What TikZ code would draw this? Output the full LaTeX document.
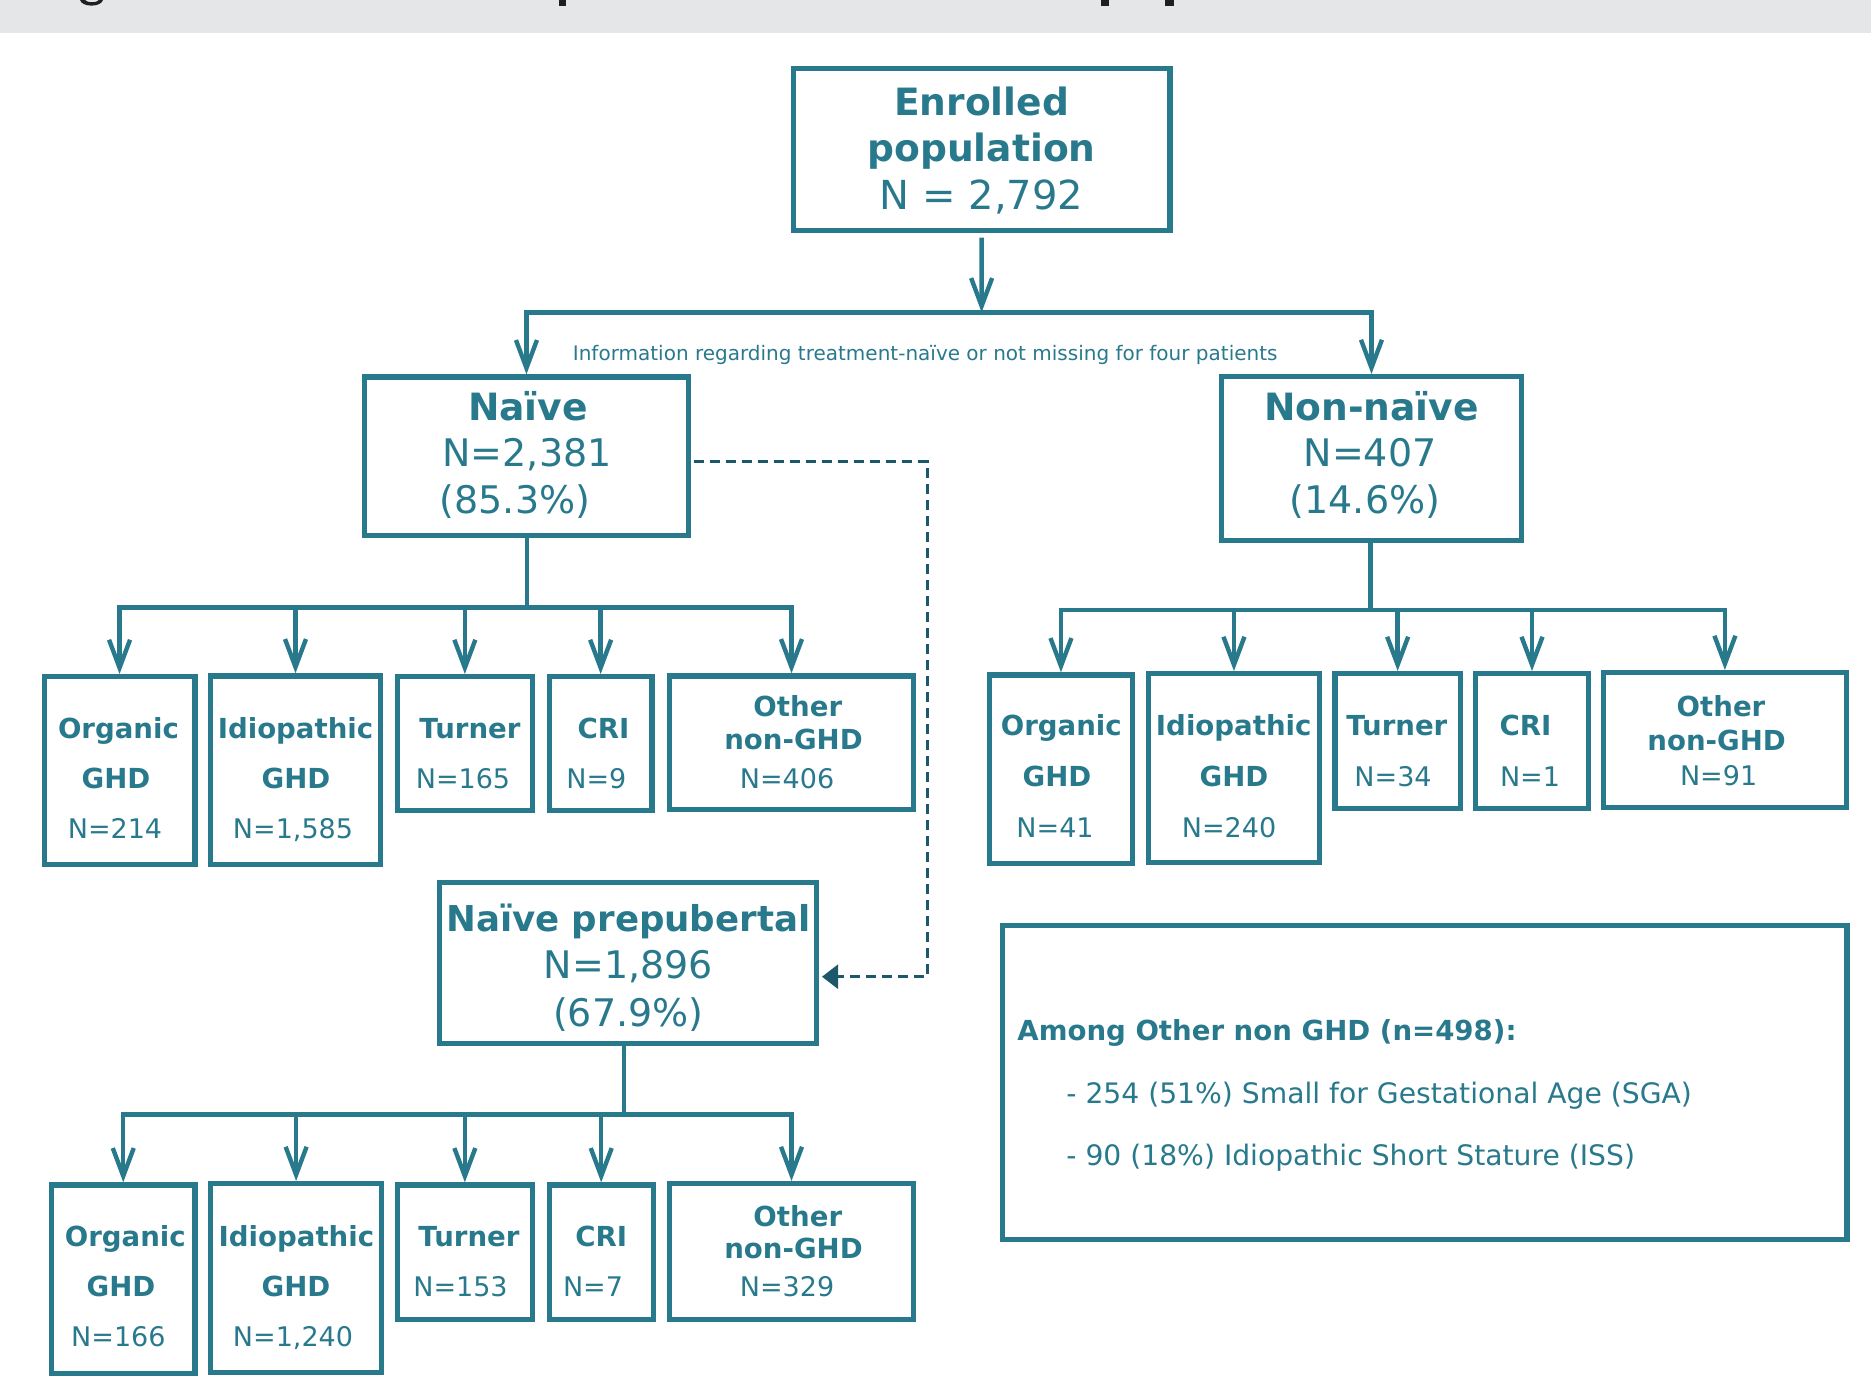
\documentclass[tikz,border=0pt]{standalone}
\usepackage{fontspec}
\setmainfont{DejaVu Sans}
\usetikzlibrary{arrows.meta}
\definecolor{tl}{RGB}{41,121,141}
\definecolor{tld}{RGB}{27,88,106}
\definecolor{bannergrey}{RGB}{229,230,232}
\tikzset{
  box/.style={draw=tl, line width=2.6pt, inner sep=0pt, rectangle},
  txt/.style={anchor=base, inner sep=0pt, text=tl},
  conn/.style={draw=tl, line width=2.2pt, line join=miter},
  vb/.tip={Straight Barb[length=14pt,width=10.5pt]},
  dconn/.style={draw=tld, line width=1.3pt, dash pattern=on 5pt off 3pt},
  hbig/.style={font=\fontsize{18.8}{22}\selectfont\bfseries},
  rbig/.style={font=\fontsize{19}{22}\selectfont},
  hsm/.style={font=\fontsize{13.8}{16}\selectfont\bfseries},
  rsm/.style={font=\fontsize{13.5}{16}\selectfont},
  hnote/.style={font=\fontsize{13.8}{16}\selectfont\bfseries},
  rnote/.style={font=\fontsize{14.1}{16}\selectfont},
}
\newcommand\bx[5]{\node[box, minimum width={(#4-#2-5.2)*0.5pt}, minimum height={(#5-#3-5.2)*0.5pt}] (#1) at ({(#2+#4)/2},{(#3+#5)/2}) {};}
\newcommand\tx[5]{\node[txt,#4] (#1) at (#2,#3) {#5};}
\begin{document}
\begin{tikzpicture}[x=0.5pt,y=-0.5pt]
\useasboundingbox (0,0) rectangle (1871,1398);
\fill[bannergrey] (0,0) rectangle (1871,33);
\fill[black!88] (80,0) -- (85,0) .. controls (87,3) and (97,3) .. (99,0) -- (103,0) .. controls (101,7.5) and (82,7.5) .. (80,0) -- cycle;
\fill[black!88] (558.5,0) rectangle (566,6);
\fill[black!88] (1100.7,0) rectangle (1109.3,6);
\fill[black!88] (1165,0) rectangle (1174,6);

% boxes
\bx{enr}{790.7}{66}{1172.6}{232.7}
\bx{naive}{361.9}{374.3}{691}{538.3}
\bx{nonnaive}{1218.6}{374}{1524.3}{542.7}
\bx{pre}{437}{880}{819.4}{1046}
\bx{n1}{41.5}{674}{197.6}{866.7}
\bx{n2}{208}{673.3}{383}{866.7}
\bx{n3}{394.5}{674}{535.2}{812.7}
\bx{n4}{546.7}{674}{654.6}{812.7}
\bx{n5}{667.2}{673.3}{915.8}{811.7}
\bx{m1}{986.8}{672.3}{1135.1}{866}
\bx{m2}{1145.9}{671}{1322}{864.7}
\bx{m3}{1332.3}{671}{1463}{810.7}
\bx{m4}{1473.2}{671}{1590.8}{810.7}
\bx{m5}{1600.5}{670}{1849.3}{810}
\bx{p1}{48.9}{1182.3}{197.6}{1375.7}
\bx{p2}{208}{1181}{384.2}{1375}
\bx{p3}{394.5}{1182.3}{535.2}{1321.7}
\bx{p4}{546.7}{1182.3}{655.7}{1321.7}
\bx{p5}{667.2}{1181}{915.8}{1321.7}
\bx{note}{1000}{922.7}{1849.6}{1241.7}

% texts: enrolled
\tx{enr1}{981.6}{115}{hbig}{Enrolled}
\tx{enr2}{981.6}{161.7}{hbig}{population}
\tx{enr3}{981.6}{209.3}{font=\fontsize{20}{22}\selectfont}{N = 2,792}
\node[txt, anchor=base west, font=\fontsize{10}{12}\selectfont] (info) at (572.5,360) {Information regarding treatment-naïve or not missing for four patients};
% naive
\tx{nv1}{528}{420}{hbig}{Naïve}
\tx{nv2}{527}{466.7}{rbig}{N=2,381}
\tx{nv3}{515}{513.5}{rbig}{(85.3\%)}
% non-naive
\tx{nn1}{1371.5}{420}{hbig}{Non-naïve}
\tx{nn2}{1370}{466.5}{rbig}{N=407}
\tx{nn3}{1365}{513.5}{rbig}{(14.6\%)}
% prepubertal
\tx{pr1}{628.3}{931.7}{font=\fontsize{17.8}{22}\selectfont\bfseries}{Naïve prepubertal}
\tx{pr2}{628.3}{978.3}{rbig}{N=1,896}
\tx{pr3}{628.3}{1026.7}{rbig}{(67.9\%)}

% naive children
\tx{n1a}{118.5}{738.3}{hsm}{Organic}
\tx{n1b}{116}{788.3}{hsm}{GHD}
\tx{n1c}{115}{838.3}{rsm}{N=214}
\tx{n2a}{295.5}{738.3}{hsm}{Idiopathic}
\tx{n2b}{296}{788.3}{hsm}{GHD}
\tx{n2c}{293}{838.3}{rsm}{N=1,585}
\tx{n3a}{470}{738.3}{hsm}{Turner}
\tx{n3b}{463}{788.3}{rsm}{N=165}
\tx{n4a}{603.5}{738.3}{hsm}{CRI}
\tx{n4b}{596.3}{788.3}{rsm}{N=9}
\tx{n5a}{797.8}{716.7}{hsm}{Other}
\tx{n5b}{793.5}{749.3}{hsm}{non-GHD}
\tx{n5c}{787}{788.3}{rsm}{N=406}

% non-naive children
\tx{m1a}{1061.3}{735}{hsm}{Organic}
\tx{m1b}{1057}{786.7}{hsm}{GHD}
\tx{m1c}{1055}{837.3}{rsm}{N=41}
\tx{m2a}{1233.7}{735}{hsm}{Idiopathic}
\tx{m2b}{1234}{786.7}{hsm}{GHD}
\tx{m2c}{1229}{837.3}{rsm}{N=240}
\tx{m3a}{1396.8}{735}{hsm}{Turner}
\tx{m3b}{1393}{786}{rsm}{N=34}
\tx{m4a}{1525.5}{735}{hsm}{CRI}
\tx{m4b}{1530}{786}{rsm}{N=1}
\tx{m5a}{1721}{716.7}{hsm}{Other}
\tx{m5b}{1716.6}{750}{hsm}{non-GHD}
\tx{m5c}{1718.6}{785}{rsm}{N=91}

% prepubertal children
\tx{p1a}{125.3}{1246.7}{hsm}{Organic}
\tx{p1b}{121}{1296.7}{hsm}{GHD}
\tx{p1c}{118.4}{1346.7}{rsm}{N=166}
\tx{p2a}{296.4}{1246.7}{hsm}{Idiopathic}
\tx{p2b}{296}{1296.7}{hsm}{GHD}
\tx{p2c}{293}{1346.7}{rsm}{N=1,240}
\tx{p3a}{469}{1246.7}{hsm}{Turner}
\tx{p3b}{460.5}{1296.7}{rsm}{N=153}
\tx{p4a}{601.2}{1246.7}{hsm}{CRI}
\tx{p4b}{593}{1296.7}{rsm}{N=7}
\tx{p5a}{797.8}{1226}{hsm}{Other}
\tx{p5b}{793.5}{1258.3}{hsm}{non-GHD}
\tx{p5c}{787}{1296.7}{rsm}{N=329}

% note
\node[txt, anchor=base west, hnote] (note1) at (1017,1040) {Among Other non GHD (n=498):};
\node[txt, anchor=base west, rnote] (note2) at (1066,1103) {- 254 (51\%) Small for Gestational Age (SGA)};
\node[txt, anchor=base west, rnote] (note3) at (1066,1165) {- 90 (18\%) Idiopathic Short Stature (ISS)};

% connectors
\coordinate (j0) at (981.6,312.3);
\draw[conn,-{vb},shorten <=2.5pt] (enr.south) -- (j0);
\draw[conn,{vb}-{vb}] (naive.north) |- (j0) -| (nonnaive.north);

\coordinate (jn) at (527,607.3);
\draw[conn] (jn |- naive.south) -- (jn);
\draw[conn,{vb}-{vb}] (n1.north) |- (jn) -| (n5.north);
\foreach \b in {n2,n3,n4} \draw[conn,-{vb}] (\b.north |- jn) -- (\b.north);

\coordinate (jm) at (1370.3,610);
\draw[conn] (jm |- nonnaive.south) -- (jm);
\draw[conn,{vb}-{vb}] (m1.north) |- (jm) -| (m5.north);
\foreach \b in {m2,m3,m4} \draw[conn,-{vb}] (\b.north |- jm) -- (\b.north);

\coordinate (jp) at (624,1114.3);
\draw[conn] (jp |- pre.south) -- (jp);
\draw[conn,{vb}-{vb}] (p1.north) |- (jp) -| (p5.north);
\foreach \b in {p2,p3,p4} \draw[conn,-{vb}] (\b.north |- jp) -- (\b.north);

\coordinate (dA) at (927.5,461.7);
\coordinate (dB) at (927.5,976.7);
\draw[dconn,-{Triangle[length=8pt,width=12pt,fill=tld]}] ([xshift=1.3pt]naive.east |- dA) -- (dA) -- (dB) -- ([xshift=1.3pt]pre.east |- dB);
\end{tikzpicture}
\end{document}
